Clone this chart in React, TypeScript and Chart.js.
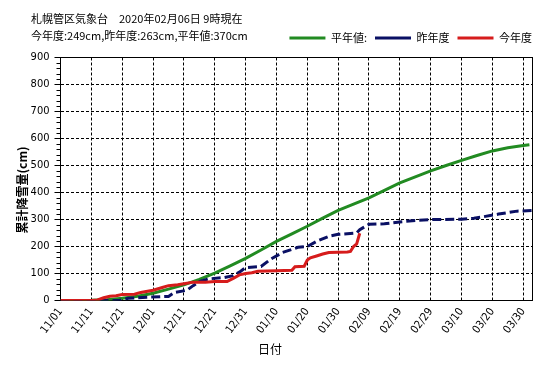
import { useEffect, useRef } from 'react';
import { Chart, registerables } from 'chart.js';

Chart.register(...registerables);

// x axis: days since 11/01
const tickDays = [0, 10, 20, 30, 40, 50, 60, 70, 80, 90, 100, 110, 120, 130, 140, 150];
const tickLabels = ['11/01', '11/11', '11/21', '12/01', '12/11', '12/21', '12/31', '01/10', '01/20', '01/30', '02/09', '02/19', '02/29', '03/10', '03/20', '03/30'];

// 平年値
const normalDays = [0, 10, 15, 20, 25, 30, 35, 40, 45, 50, 55, 60, 65, 70, 75, 80, 85, 90, 95, 100, 105, 110, 115, 120, 125, 130, 135, 140, 145, 150, 152];
const normalValues = [0, 1, 3, 8, 16, 27, 42, 58, 78, 101, 128, 156, 187, 219, 247, 275, 305, 334, 357, 380, 408, 436, 458, 480, 500, 519, 537, 554, 566, 574, 577];

// 昨年度
const lastDays = [0, 19, 22, 28, 35, 37, 41, 43, 45, 48, 53, 56, 58, 60, 65, 68, 72, 77, 80, 83, 87, 90, 96, 97, 98, 100, 105, 110, 116, 121, 130, 134, 137, 142, 148, 153];
const lastValues = [0, 0, 8, 12, 15, 30, 38, 55, 70, 80, 85, 92, 105, 122, 126, 152, 178, 197, 200, 219, 238, 245, 250, 262, 269, 282, 284, 291, 297, 300, 301, 305, 310, 320, 331, 333];

// 今年度
const thisDays = [0, 10, 12, 14, 16, 18, 20, 24, 26, 30, 33, 35, 38, 40, 43, 47, 50, 54, 56, 58, 60, 62, 64, 70, 75, 76, 79, 80, 81, 83, 85, 87, 93, 94, 95, 96, 97];
const thisValues = [0, 0, 2, 10, 16, 18, 22, 23, 30, 38, 48, 55, 58, 62, 68, 68, 70, 70, 82, 95, 100, 103, 108, 110, 112, 125, 127, 150, 158, 165, 172, 178, 180, 182, 200, 210, 249];

const titleLine1 = '札幌管区気象台　2020年02月06日 9時現在';
const titleLine2 = '今年度:249cm,昨年度:263cm,平年値:370cm';
const yTitle = '累計降雪量(cm)';
const xTitle = '日付';

const pts = (xs: number[], ys: number[]) => xs.map((x, i) => ({ x, y: ys[i] }));

const NUM_FONT = "'Liberation Sans Narrow', 'DejaVu Sans Condensed', 'Noto Sans CJK JP', sans-serif";
const JP_FONT = "'Noto Sans CJK JP', sans-serif";

const decorPlugin = {
  id: 'decor',
  beforeDatasetsDraw(chart: any) {
    const { ctx, chartArea } = chart;
    const { left, right, top, bottom } = chartArea;
    ctx.save();
    ctx.strokeStyle = '#000';
    ctx.lineWidth = 1;
    ctx.setLineDash([]);
    ctx.strokeRect(left, top, right - left, bottom - top);
    // minor ticks on y axis
    const ys = chart.scales.y;
    ctx.beginPath();
    for (let v = 20; v < 900; v += 20) {
      if (v % 100 === 0) continue;
      const py = Math.round(ys.getPixelForValue(v)) + 0.5;
      ctx.moveTo(left - 4, py);
      ctx.lineTo(left, py);
    }
    ctx.stroke();
    // y title
    ctx.fillStyle = '#000';
    ctx.font = "bold 12px " + JP_FONT;
    ctx.textAlign = 'center';
    ctx.textBaseline = 'middle';
    ctx.translate(22, (top + bottom) / 2 + 11);
    ctx.rotate(-Math.PI / 2);
    ctx.fillText(yTitle, 0, 0);
    ctx.restore();
  },
};

export default function App() {
  const ref = useRef<HTMLCanvasElement | null>(null);
  useEffect(() => {
    if (!ref.current) return;
    const chart = new Chart(ref.current, {
      type: 'line',
      data: {
        datasets: [
          {
            label: '平年値:',
            data: pts(normalDays, normalValues),
            borderColor: 'rgb(34,139,34)',
            backgroundColor: 'rgb(34,139,34)',
            borderWidth: 3,
            pointRadius: 0,
            order: 2,
            xAxisID: 'x',
            yAxisID: 'y',
          },
          {
            label: '昨年度',
            data: pts(lastDays, lastValues),
            borderColor: 'rgb(10,16,100)',
            backgroundColor: 'rgb(10,16,100)',
            borderWidth: 3,
            borderDash: [9, 4],
            pointRadius: 0,
            order: 1,
            xAxisID: 'x',
            yAxisID: 'y',
          },
          {
            label: '今年度',
            data: pts(thisDays, thisValues),
            borderColor: 'rgb(214,28,28)',
            backgroundColor: 'rgb(214,28,28)',
            borderWidth: 3,
            pointRadius: 0,
            order: 0,
            xAxisID: 'x',
            yAxisID: 'y',
          },
        ],
      },
      options: {
        responsive: false,
        animation: false,
        events: [],
        layout: { padding: { left: 0, right: 7, top: 24.5, bottom: 0 } },
        scales: {
          x: {
            type: 'linear',
            position: 'bottom',
            min: 0,
            max: 153,
            afterBuildTicks: (s: any) => {
              s.ticks = tickDays.map((v) => ({ value: v }));
            },
            afterFit: (s: any) => {
              s.height = 42.1;
            },
            ticks: {
              autoSkip: false,
              minRotation: 53,
              maxRotation: 53,
              padding: 5,
              color: '#000',
              font: { family: NUM_FONT, size: 11 },
              callback: (v: any) => tickLabels[tickDays.indexOf(Number(v))] ?? '',
            },
            grid: { color: '#000', lineWidth: 1, drawTicks: false },
            border: { display: true, color: '#000', width: 1, dash: [3, 2] },
          },
          xTop: {
            type: 'linear',
            position: 'top',
            display: true,
            grid: { display: false },
            ticks: { display: false },
            border: { display: false },
            afterFit: (s: any) => {
              s.height = 4;
            },
          },
          y: {
            type: 'linear',
            position: 'left',
            min: 0,
            max: 900,
            afterFit: (s: any) => {
              s.width = 60.5;
            },
            ticks: {
              stepSize: 100,
              padding: 5,
              color: '#000',
              font: { family: NUM_FONT, size: 11 },
            },
            grid: { color: '#000', lineWidth: 1, drawTicks: true, tickLength: 6, tickColor: '#000' },
            border: { display: true, color: '#000', width: 1, dash: [3, 2] },
          },
          yRight: {
            type: 'linear',
            position: 'right',
            display: true,
            grid: { display: false },
            ticks: { display: false },
            border: { display: false },
            afterFit: (s: any) => {
              s.width = 7.5;
            },
          },
        },
        plugins: {
          tooltip: { enabled: false },
          legend: {
            display: true,
            position: 'top',
            align: 'end',
            labels: {
              usePointStyle: true,
              pointStyle: 'line',
              pointStyleWidth: 36,
              padding: 8,
              color: '#000',
              font: { family: JP_FONT, size: 11 },
              sort: (a: any, b: any) => a.datasetIndex - b.datasetIndex,
            },
          },
          title: {
            display: true,
            text: xTitle,
            position: 'bottom',
            color: '#000',
            font: { family: JP_FONT, size: 12, weight: 'normal' },
            padding: { top: 0, bottom: 10 },
          },
        },
      },
      plugins: [decorPlugin],
    } as any);
    return () => chart.destroy();
  }, []);

  return (
    <div style={{ position: 'absolute', left: 0, top: 0, width: 547, height: 367, background: '#fff' }}>
      <canvas ref={ref} width={547} height={367} style={{ position: 'absolute', left: 0, top: 0 }} />
      <div
        style={{
          position: 'absolute',
          left: 31,
          top: 10,
          fontFamily: JP_FONT,
          fontSize: 11,
          lineHeight: '17px',
          color: '#000',
          whiteSpace: 'pre',
        }}
      >
        {titleLine1}
        {'\n'}
        {titleLine2}
      </div>
    </div>
  );
}
